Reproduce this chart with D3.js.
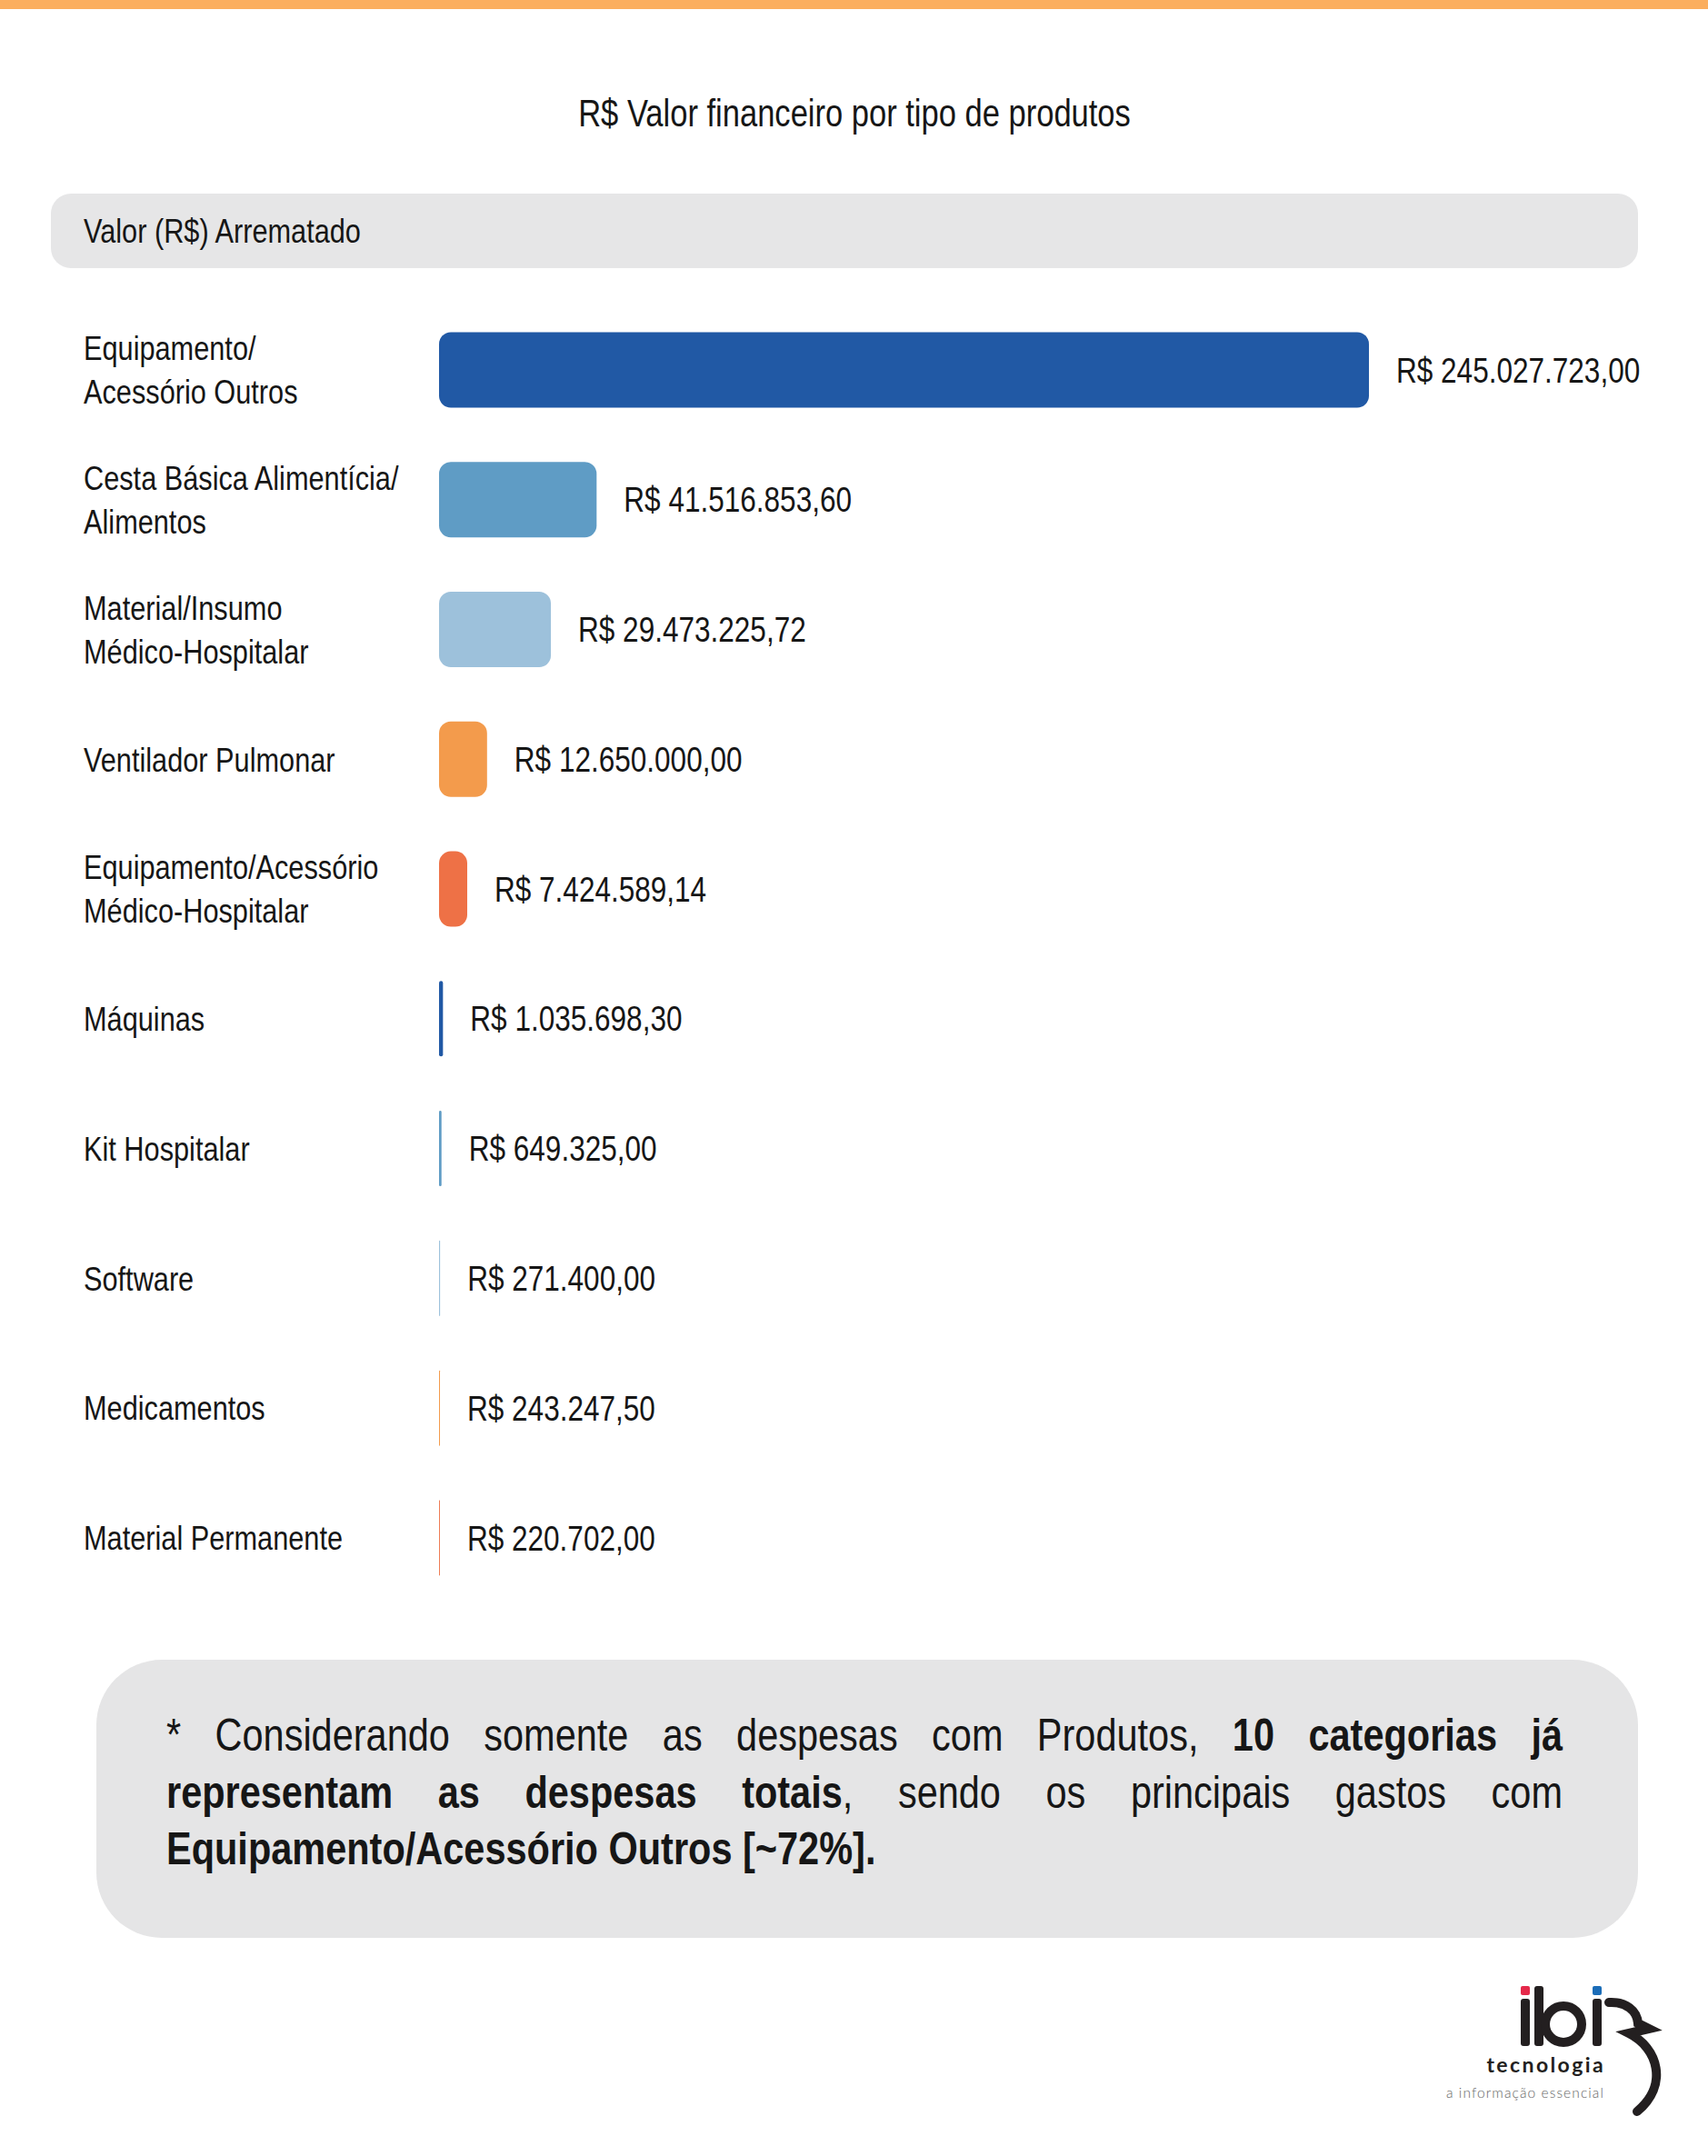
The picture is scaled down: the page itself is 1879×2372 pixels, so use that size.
<!DOCTYPE html>
<html><head><meta charset="utf-8">
<script src="https://cdn.jsdelivr.net/npm/d3@7/dist/d3.min.js"></script>
<style>body{margin:0;background:#fff;} svg{display:block;}</style>
</head><body>
<script>
// ---------- data ----------
const categories = [
  "Equipamento/\nAcessório Outros",
  "Cesta Básica Alimentícia/\nAlimentos",
  "Material/Insumo\nMédico-Hospitalar",
  "Ventilador Pulmonar",
  "Equipamento/Acessório\nMédico-Hospitalar",
  "Máquinas",
  "Kit Hospitalar",
  "Software",
  "Medicamentos",
  "Material Permanente"
];
const values = [245027723.00, 41516853.60, 29473225.72, 12650000.00, 7424589.14,
                1035698.30, 649325.00, 271400.00, 243247.50, 220702.00];
const palette = ["#2159A5", "#5F9CC5", "#9DC1DB", "#F39B4C", "#EE7146"];
const title = "R$ Valor financeiro por tipo de produtos";
const headerLabel = "Valor (R$) Arrematado";
// note text: lines -> words -> [piece, bold]
const noteLines = [
  [[["*",0]],[["Considerando",0]],[["somente",0]],[["as",0]],[["despesas",0]],[["com",0]],[["Produtos,",0]],[["10",1]],[["categorias",1]],[["já",1]]],
  [[["representam",1]],[["as",1]],[["despesas",1]],[["totais",1],[",",0]],[["sendo",0]],[["os",0]],[["principais",0]],[["gastos",0]],[["com",0]]],
  [[["Equipamento/Acessório Outros [~72%].",1]]]
];
const logoWord = "tecnologia";
const logoTagline = "a informação essencial";

// ---------- setup ----------
const W = 1879, H = 2372;
const K = 0.83; // horizontal condensation
const FONT = "'Liberation Sans', Arial, sans-serif";
const INK = "#161616";

const svg = d3.select("body").append("svg").attr("width", W).attr("height", H)
  .style("font-family", FONT);

function txt(parent, x, y, str, size, opts = {}) {
  const t = parent.append("text")
    .attr("transform", `translate(${x},${y}) scale(${K},1)`)
    .attr("font-size", size)
    .attr("fill", opts.fill || INK)
    .attr("text-anchor", opts.anchor || "start")
    .attr("font-weight", opts.weight || "normal")
    .text(str);
  return t;
}

// top accent line
svg.append("rect").attr("x", -10).attr("y", -10).attr("width", W + 20).attr("height", 20)
  .attr("rx", 8).attr("fill", "#FBAE5E");

// title
txt(svg, 940, 139, title, 41.6, {anchor: "middle"});

// header band
svg.append("rect").attr("x", 56).attr("y", 213).attr("width", 1746).attr("height", 82)
  .attr("rx", 22).attr("fill", "#E6E6E7");
txt(svg, 92, 267, headerLabel, 37);

// scales
const x = d3.scaleLinear().domain([0, d3.max(values)]).range([483, 1506]);
const y = d3.scaleBand().domain(d3.range(categories.length)).range([365.5, 1733.4])
  .paddingInner(0.4187).paddingOuter(0);
const color = i => palette[i % palette.length];

const locale = d3.formatLocale({decimal: ",", thousands: ".", grouping: [3], currency: ["R$ ", ""]});
const fmt = locale.format("$,.2f");

const gBars = svg.append("g");
const LABEL_SIZE = 37, LINE_H = 48, CAP = 0.716;

categories.forEach((cat, i) => {
  const cy = y(i) + y.bandwidth() / 2;
  const w = x(values[i]) - x(0);
  const r = Math.min(13, w / 2);
  gBars.append("rect")
    .attr("x", x(0)).attr("y", y(i))
    .attr("width", w).attr("height", y.bandwidth())
    .attr("rx", r).attr("ry", r)
    .attr("fill", color(i));
  // category label
  const lines = cat.split("\n");
  const n = lines.length;
  lines.forEach((ln, j) => {
    const by = cy + (j - (n - 1) / 2) * LINE_H + LABEL_SIZE * CAP / 2;
    txt(svg, 92, by, ln, LABEL_SIZE);
  });
  // value label
  txt(svg, x(values[i]) + 30, cy + 38 * CAP / 2, fmt(values[i]), 38);
});

// note box
svg.append("rect").attr("x", 106).attr("y", 1826).attr("width", 1696).attr("height", 306)
  .attr("rx", 72).attr("fill", "#E5E5E6");

const NOTE_L = 183, NOTE_R = 1719, NOTE_SIZE = 50;
const noteBase = [1926, 1989, 2051];
noteLines.forEach((words, li) => {
  const last = li === noteLines.length - 1;
  const nodes = words.map(pieces => {
    const t = svg.append("text")
      .attr("font-size", NOTE_SIZE).attr("fill", INK);
    pieces.forEach(([s, b]) => t.append("tspan").attr("font-weight", b ? "bold" : "normal").text(s));
    return t;
  });
  const widths = nodes.map(t => t.node().getComputedTextLength() * K);
  const total = d3.sum(widths);
  const gap = (last || words.length < 2) ? 0.278 * NOTE_SIZE * K : (NOTE_R - NOTE_L - total) / (words.length - 1);
  let cx = NOTE_L;
  nodes.forEach((t, k) => {
    t.attr("transform", `translate(${cx},${noteBase[li]}) scale(${K},1)`);
    cx += widths[k] + gap;
  });
});

// logo
const logo = svg.append("g");
const DARK = "#231F20";
logo.append("rect").attr("x", 1673).attr("y", 2185).attr("width", 10).attr("height", 10).attr("rx", 2).attr("fill", "#E5294A");
logo.append("rect").attr("x", 1752).attr("y", 2185).attr("width", 10).attr("height", 10).attr("rx", 2).attr("fill", "#1B6DB8");
logo.append("rect").attr("x", 1673).attr("y", 2199).attr("width", 10).attr("height", 52).attr("rx", 3).attr("fill", DARK);
logo.append("rect").attr("x", 1688).attr("y", 2185).attr("width", 10).attr("height", 66).attr("rx", 3).attr("fill", DARK);
logo.append("circle").attr("cx", 1720).attr("cy", 2227).attr("r", 20).attr("fill", "none").attr("stroke", DARK).attr("stroke-width", 10);
logo.append("rect").attr("x", 1752).attr("y", 2199).attr("width", 10).attr("height", 52).attr("rx", 3).attr("fill", DARK);
logo.append("path")
  .attr("d", "M1770,2203 C1789,2202 1801,2212 1802,2226 L1814,2232 L1792,2237 C1824,2253 1836,2294 1801,2323")
  .attr("fill", "none").attr("stroke", DARK).attr("stroke-width", 10).attr("stroke-linejoin", "miter").attr("stroke-linecap", "round");
logo.append("text").attr("x", 1766).attr("y", 2280).attr("text-anchor", "end")
  .attr("font-family", "Lato, 'Open Sans', sans-serif").attr("font-weight", 700).attr("font-size", 23)
  .attr("letter-spacing", 2.4).attr("fill", DARK).text(logoWord);
logo.append("text").attr("x", 1765).attr("y", 2308).attr("text-anchor", "end")
  .attr("font-family", "Lato, 'Open Sans', sans-serif").attr("font-weight", 300).attr("font-size", 15.5)
  .attr("letter-spacing", 1.1).attr("fill", "#666").text(logoTagline);
</script>
</body></html>
